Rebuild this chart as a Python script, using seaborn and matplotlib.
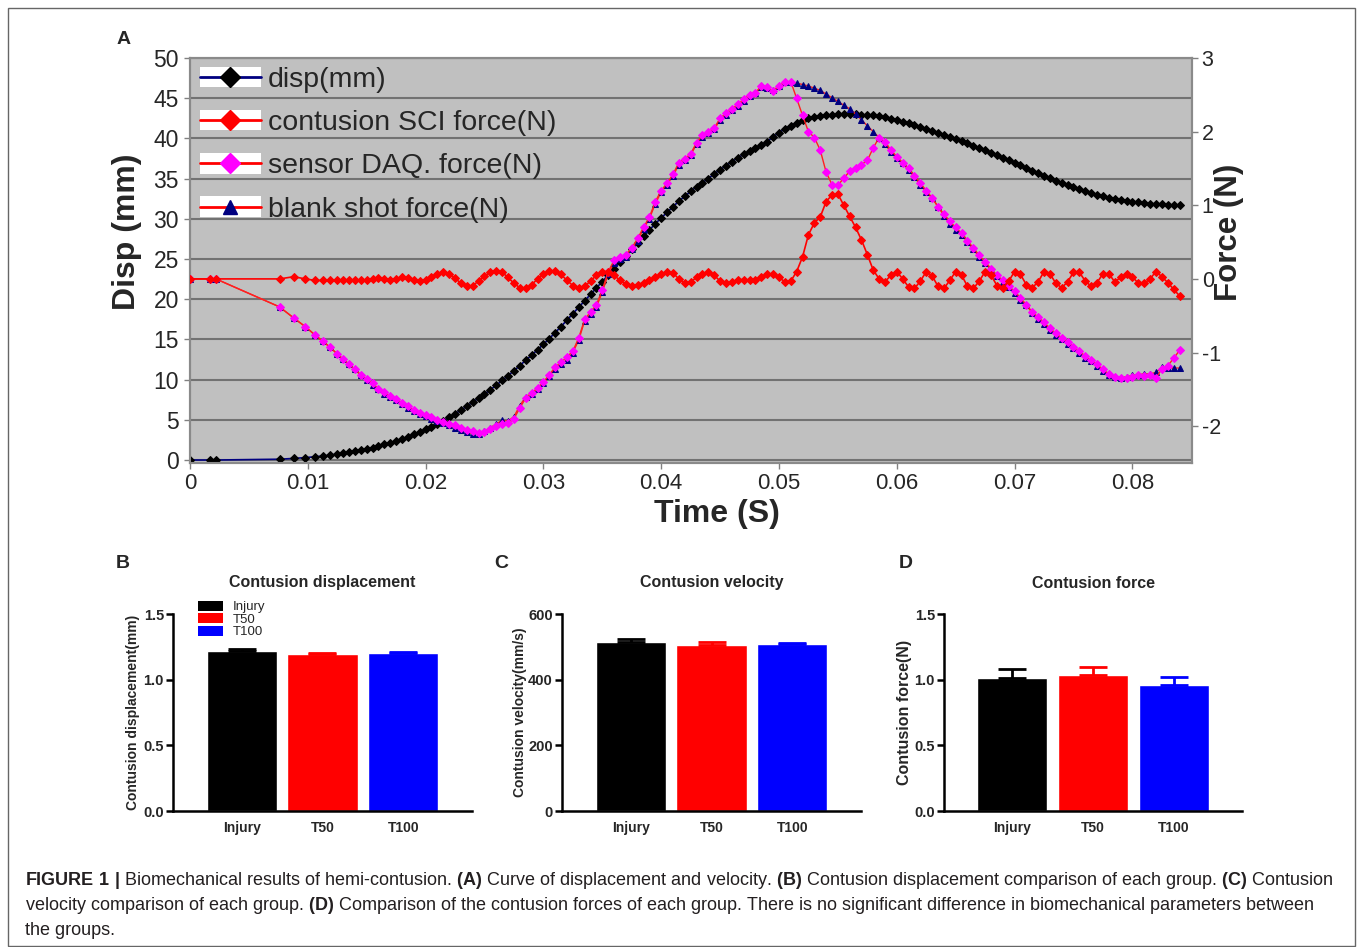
import matplotlib

matplotlib.use("Agg")
import matplotlib.pyplot as plt
import matplotlib.font_manager as fm
from matplotlib.patches import Rectangle, Patch
from matplotlib.lines import Line2D
from matplotlib.legend_handler import HandlerTuple
import pandas as pd
import seaborn as sns

# --- Panel A data: time base (s) and four series ---
time_s = [
    0.0, 0.0017, 0.0022, 0.0076, 0.0088, 0.0098, 0.0106, 0.0113, 0.0119, 0.0125, 0.0130, 0.0135, 0.0140,
    0.0145, 0.0150, 0.0155, 0.0160, 0.0165, 0.0170, 0.0175, 0.0180, 0.0185, 0.0190,
    0.0195, 0.0200, 0.0205, 0.0210, 0.0215, 0.0220, 0.0225, 0.0230, 0.0235, 0.0240,
    0.0245, 0.0250, 0.0255, 0.0260, 0.0265, 0.0270, 0.0275, 0.0280, 0.0285, 0.0290,
    0.0295, 0.0300, 0.0305, 0.0310, 0.0315, 0.0320, 0.0325, 0.0330, 0.0335, 0.0340,
    0.0345, 0.0350, 0.0355, 0.0360, 0.0365, 0.0370, 0.0375, 0.0380, 0.0385, 0.0390,
    0.0395, 0.0400, 0.0405, 0.0410, 0.0415, 0.0420, 0.0425, 0.0430, 0.0435, 0.0440,
    0.0445, 0.0450, 0.0455, 0.0460, 0.0465, 0.0470, 0.0475, 0.0480, 0.0485, 0.0490,
    0.0495, 0.0500, 0.0505, 0.0510, 0.0515, 0.0520, 0.0525, 0.0530, 0.0535, 0.0540,
    0.0545, 0.0550, 0.0555, 0.0560, 0.0565, 0.0570, 0.0575, 0.0580, 0.0585, 0.0590,
    0.0595, 0.0600, 0.0605, 0.0610, 0.0615, 0.0620, 0.0625, 0.0630, 0.0635, 0.0640,
    0.0645, 0.0650, 0.0655, 0.0660, 0.0665, 0.0670, 0.0675, 0.0680, 0.0685, 0.0690,
    0.0695, 0.0700, 0.0705, 0.0710, 0.0715, 0.0720, 0.0725, 0.0730, 0.0735, 0.0740,
    0.0745, 0.0750, 0.0755, 0.0760, 0.0765, 0.0770, 0.0775, 0.0780, 0.0785, 0.0790,
    0.0795, 0.0800, 0.0805, 0.0810, 0.0815, 0.0820, 0.0825, 0.0830, 0.0835, 0.0840,
]

disp_mm = [
    0, 0, 0, 0.1, 0.2, 0.3, 0.4, 0.5, 0.6, 0.75, 0.85, 1.0, 1.1,
    1.25, 1.4, 1.55, 1.75, 1.95, 2.15, 2.4, 2.65, 2.9, 3.2,
    3.5, 3.8, 4.15, 4.5, 4.9, 5.3, 5.75, 6.2, 6.7, 7.2,
    7.7, 8.2, 8.75, 9.3, 9.9, 10.5, 11.1, 11.75, 12.4, 13.05,
    13.7, 14.4, 15.1, 15.85, 16.6, 17.4, 18.2, 19.0, 19.8, 20.6,
    21.4, 22.2, 23.0, 23.8, 24.6, 25.4, 26.2, 27.0, 27.8, 28.6,
    29.4, 30.1, 30.8, 31.5, 32.2, 32.8, 33.4, 34.0, 34.5, 35.0,
    35.6, 36.1, 36.6, 37.1, 37.6, 38.0, 38.4, 38.8, 39.2, 39.6,
    40.2, 40.7, 41.2, 41.6, 41.95, 42.25, 42.5, 42.7, 42.8, 42.9,
    42.95, 43.0, 43.0, 43.0, 43.0, 42.95, 42.9, 42.85, 42.75, 42.6,
    42.45, 42.3, 42.1, 41.9, 41.7, 41.45, 41.2, 40.95, 40.7, 40.45,
    40.2, 39.9, 39.65, 39.4, 39.1, 38.8, 38.5, 38.2, 37.9, 37.6,
    37.3, 37.0, 36.65, 36.3, 36.0, 35.7, 35.35, 35.05, 34.75, 34.45,
    34.2, 33.9, 33.65, 33.4, 33.2, 33.0, 32.8, 32.65, 32.5, 32.35,
    32.25, 32.15, 32.05, 31.95, 31.9, 31.85, 31.8, 31.75, 31.72, 31.7,
]

sci_force_n = [
    0, 0, 0, 0, 0.03, 0, -0.02, -0.02, -0.02, -0.02, -0.02, -0.02, -0.02,
    -0.02, -0.01, 0.0, 0.01, 0.0, -0.01, 0.0, 0.02, 0.01, -0.02,
    -0.03, -0.01, 0.03, 0.07, 0.09, 0.07, 0.01, -0.06, -0.10, -0.09,
    -0.03, 0.04, 0.09, 0.11, 0.09, 0.02, -0.06, -0.12, -0.13, -0.08,
    0.0, 0.07, 0.11, 0.11, 0.06, -0.02, -0.09, -0.12, -0.10, -0.03,
    0.05, 0.10, 0.10, 0.05, -0.02, -0.07, -0.09, -0.08, -0.05, -0.02,
    0.02, 0.06, 0.09, 0.08, 0.0, -0.06, -0.04, 0.02, 0.06, 0.09,
    0.05, -0.03, -0.06, -0.04, -0.01, -0.01, -0.02, -0.01, 0.03, 0.06,
    0.07, 0.02, -0.04, -0.03, 0.10, 0.30, 0.60, 0.76, 0.84, 1.05,
    1.14, 1.15, 1.0, 0.85, 0.70, 0.53, 0.33, 0.12, 0.0, -0.04,
    0.05, 0.10, 0.0, -0.11, -0.13, -0.03, 0.10, 0.04, -0.10, -0.13,
    -0.02, 0.10, 0.05, -0.10, -0.13, -0.03, 0.10, 0.05, -0.09, -0.13,
    -0.03, 0.10, 0.06, -0.08, -0.12, -0.04, 0.10, 0.07, -0.06, -0.12,
    -0.04, 0.09, 0.09, -0.03, -0.10, -0.05, 0.07, 0.07, -0.04, 0.02,
    0.07, 0.03, -0.06, -0.06, 0.0, 0.10, 0.03, -0.05, -0.14, -0.23,
]

daq_force_n = [
    0, 0, 0, -0.38, -0.53, -0.65, -0.76, -0.85, -0.93, -1.02, -1.09, -1.16, -1.23,
    -1.30, -1.36, -1.42, -1.49, -1.54, -1.59, -1.63, -1.68, -1.73, -1.78,
    -1.82, -1.85, -1.88, -1.91, -1.94, -1.97, -1.99, -2.02, -2.05, -2.07,
    -2.09, -2.08, -2.04, -2.00, -1.97, -1.96, -1.90, -1.75, -1.62, -1.55,
    -1.48, -1.40, -1.30, -1.20, -1.13, -1.06, -0.98, -0.80, -0.55, -0.45,
    -0.35, -0.15, 0.10, 0.25, 0.30, 0.33, 0.42, 0.55, 0.70, 0.84,
    1.05, 1.20, 1.30, 1.42, 1.58, 1.63, 1.70, 1.85, 1.95, 2.00,
    2.05, 2.18, 2.25, 2.31, 2.37, 2.44, 2.50, 2.53, 2.62, 2.60,
    2.55, 2.62, 2.67, 2.68, 2.45, 2.22, 2.00, 1.92, 1.75, 1.45,
    1.28, 1.27, 1.37, 1.46, 1.51, 1.55, 1.61, 1.78, 1.92, 1.86,
    1.75, 1.66, 1.58, 1.50, 1.40, 1.30, 1.20, 1.10, 0.98, 0.88,
    0.78, 0.70, 0.62, 0.52, 0.42, 0.32, 0.23, 0.14, 0.05, -0.02,
    -0.10, -0.17, -0.26, -0.35, -0.45, -0.52, -0.59, -0.67, -0.74, -0.80,
    -0.86, -0.92, -0.98, -1.05, -1.10, -1.16, -1.23, -1.29, -1.33, -1.35,
    -1.34, -1.33, -1.31, -1.32, -1.30, -1.35, -1.22, -1.18, -1.08, -0.97,
]

blank_force_n = [
    0, 0, 0, -0.38, -0.53, -0.65, -0.76, -0.85, -0.93, -1.02, -1.09, -1.16, -1.23,
    -1.31, -1.37, -1.44, -1.50, -1.56, -1.60, -1.65, -1.70, -1.75, -1.79,
    -1.83, -1.86, -1.90, -1.93, -1.96, -1.99, -2.02, -2.05, -2.08, -2.10,
    -2.10, -2.07, -2.02, -1.97, -1.92, -1.93, -1.87, -1.72, -1.60, -1.56,
    -1.50, -1.42, -1.32, -1.22, -1.15, -1.10, -1.00, -0.83, -0.57, -0.48,
    -0.38, -0.18, 0.07, 0.22, 0.27, 0.30, 0.40, 0.52, 0.68, 0.82,
    1.02, 1.18, 1.28, 1.40, 1.55, 1.61, 1.68, 1.83, 1.93, 1.98,
    2.03, 2.16, 2.23, 2.29, 2.35, 2.42, 2.48, 2.52, 2.60, 2.59,
    2.56, 2.62, 2.67, 2.68, 2.66, 2.64, 2.62, 2.59, 2.56, 2.51,
    2.46, 2.41, 2.36, 2.31, 2.24, 2.16, 2.08, 2.00, 1.92, 1.83,
    1.72, 1.64, 1.57, 1.48, 1.38, 1.28, 1.18, 1.10, 0.98, 0.86,
    0.75, 0.67, 0.60, 0.50, 0.40, 0.30, 0.22, 0.12, 0.04, -0.04,
    -0.11, -0.19, -0.28, -0.36, -0.46, -0.54, -0.61, -0.69, -0.76, -0.82,
    -0.88, -0.94, -1.00, -1.07, -1.12, -1.18, -1.25, -1.30, -1.33, -1.34,
    -1.33, -1.31, -1.30, -1.29, -1.29, -1.27, -1.20, -1.21, -1.21, -1.21,
]

time_ticks = [0, 0.01, 0.02, 0.03, 0.04, 0.05, 0.06, 0.07, 0.08]
time_tick_labels = ["0", "0.01", "0.02", "0.03", "0.04", "0.05", "0.06", "0.07", "0.08"]

# --- Panels B-D data ---
groups = ["Injury", "T50", "T100"]
disp_means = [1.218, 1.196, 1.205]
disp_errs = [0.012, 0.008, 0.007]
velocity_means = [515.6, 505.5, 508.6]
velocity_errs = [7.0, 8.0, 3.0]
force_means = [1.010, 1.036, 0.959]
force_errs = [0.069, 0.058, 0.059]
group_colors = ["#000000", "#ff0000", "#0000ff"]

# --- Style ---
sns.set_style("white")
plt.rcParams["font.family"] = ["Liberation Sans", "DejaVu Sans"]
plt.rcParams["mathtext.fontset"] = "custom"
plt.rcParams["mathtext.rm"] = "Liberation Sans"
plt.rcParams["mathtext.bf"] = "Liberation Sans:bold"

font_names = {f.name for f in fm.fontManager.ttflist}
HAS_NARROW = "Liberation Sans Narrow" in font_names
NARROW = ["Liberation Sans Narrow", "Liberation Sans"] if HAS_NARROW else ["Liberation Sans"]

W, H = 1358, 947
fig = plt.figure(figsize=(W / 100, H / 100), dpi=100)


def fx(px):
    return px / W


def fy(py):
    return 1 - py / H


# ================= Panel A =================
ax = fig.add_axes([fx(190), fy(463), (1192 - 190) / W, (463 - 58) / H])
ax.set_facecolor("#c0c0c0")
ax2 = ax.twinx()

curve_df = pd.DataFrame(
    {
        "time": time_s,
        "disp": disp_mm,
        "sci": sci_force_n,
        "daq": daq_force_n,
        "blank": blank_force_n,
    }
)

sns.lineplot(
    data=curve_df, x="time", y="disp", ax=ax, color="#000080", linewidth=1.2,
    marker="D", markersize=4.2, markerfacecolor="black", markeredgecolor="black",
    estimator=None, sort=False, zorder=5,
)
sns.lineplot(
    data=curve_df, x="time", y="blank", ax=ax2, color="#ff2020", linewidth=1.0,
    marker="^", markersize=5, markerfacecolor="#000080", markeredgecolor="#000080",
    estimator=None, sort=False, zorder=3,
)
sns.lineplot(
    data=curve_df, x="time", y="daq", ax=ax2, color="#ff2020", linewidth=1.0,
    marker="D", markersize=4.2, markerfacecolor="#ff00ff", markeredgecolor="#ff00ff",
    estimator=None, sort=False, zorder=4,
)
sns.lineplot(
    data=curve_df, x="time", y="sci", ax=ax2, color="#ff0000", linewidth=1.2,
    marker="D", markersize=3.8, markerfacecolor="#ff0000", markeredgecolor="#ff0000",
    estimator=None, sort=False, zorder=5,
)

ax.set_xlim(0, 0.08506)
ax.set_ylim(-0.37, 50)
ax2.set_ylim(-2.5, 3)
ax.set_xlabel("")
ax.set_ylabel("")
ax2.set_ylabel("")

ax.set_axisbelow(True)
ax.yaxis.grid(True, color="#727272", linewidth=1.5)
ax.xaxis.grid(False)
ax.set_yticks(list(range(0, 51, 5)))
ax.set_xticks(time_ticks)
ax.set_xticklabels(time_tick_labels, family=NARROW, fontsize=19 if HAS_NARROW else 16)
ax2.set_yticks([-2, -1, 0, 1, 2, 3])
ax2.set_yticklabels(["-2", "-1", "0", "1", "2", "3"])

ax.tick_params(axis="y", left=True, length=4, width=1, color="#808080", labelsize=16.5, pad=4)
ax.tick_params(axis="x", bottom=True, length=4, width=1, color="#808080", pad=3)
ax2.tick_params(axis="y", right=True, length=4, width=1, color="#808080", labelsize=15.5, pad=3)
for a in (ax, ax2):
    for s in a.spines.values():
        s.set_color("#8a8a8a")
        s.set_linewidth(1.5)

fig.text(fx(127), fy(232), "Disp (mm)", rotation=90, ha="center", va="center",
         fontsize=23, fontweight="bold")
fig.text(fx(1229), fy(232), "Force (N)", rotation=90, ha="center", va="center",
         fontsize=22.5, fontweight="bold")
fig.text(fx(717), fy(514), "Time (S)", ha="center", va="center",
         fontsize=27 if HAS_NARROW else 23, fontweight="bold", family=NARROW)

legend_specs = [
    ("disp(mm)", "#000080", "D", "black"),
    ("contusion SCI force(N)", "#ff0000", "D", "#ff0000"),
    ("sensor DAQ. force(N)", "#ff0000", "D", "#ff00ff"),
    ("blank shot force(N)", "#ff0000", "^", "#000080"),
]
leg_handles = []
for _, lc, mk, mc in legend_specs:
    box = Rectangle((0, 0), 1, 1, facecolor="white", edgecolor="none")
    ln = Line2D([], [], color=lc, linewidth=2, marker=mk, markersize=10,
                markerfacecolor=mc, markeredgecolor=mc)
    leg_handles.append((box, ln))
ax2.legend(
    leg_handles, [s[0] for s in legend_specs],
    handler_map={tuple: HandlerTuple(ndivide=1, pad=0)},
    loc="upper left", bbox_to_anchor=(0.01, 0.978), frameon=False,
    fontsize=20.5, handlelength=2.14, handleheight=0.72, handletextpad=0.25,
    labelspacing=0.6, borderpad=0, borderaxespad=0,
)

# ================= Panels B-D =================
bar_panels = [
    (173, 472, "Contusion displacement", "Contusion displacement(mm)", 133, 10,
     disp_means, disp_errs, [0.0, 0.5, 1.0, 1.5], ["0.0", "0.5", "1.0", "1.5"]),
    (562, 861, "Contusion velocity", "Contusion velocity(mm/s)", 520, 10,
     velocity_means, velocity_errs, [0, 200, 400, 600], ["0", "200", "400", "600"]),
    (944, 1242, "Contusion force", "Contusion force(N)", 905, 11.5,
     force_means, force_errs, [0.0, 0.5, 1.0, 1.5], ["0.0", "0.5", "1.0", "1.5"]),
]

bar_axes = []
for left, right, title, ylab, ylab_x, ylab_size, means, errs, yt, ytl in bar_panels:
    bax = fig.add_axes([fx(left), fy(811), (right - left) / W, (811 - 614) / H])
    sns.barplot(
        x=groups, y=means, hue=groups, palette=group_colors, legend=False,
        width=0.87, saturation=1, errorbar=None, ax=bax,
    )
    for i, (m, e, c) in enumerate(zip(means, errs, group_colors)):
        bax.errorbar(i, m, yerr=[[0], [e]], fmt="none", ecolor=c,
                     elinewidth=2, capsize=10, capthick=2, zorder=4)
    bax.set_xlim(-0.85, 2.85)
    bax.set_ylim(yt[0], yt[-1])
    bax.set_yticks(yt)
    bax.set_yticklabels(ytl, fontweight="bold", fontsize=10.5)
    bax.set_xticks([0, 1, 2])
    bax.set_xticklabels(groups, fontweight="bold", fontsize=10)
    bax.tick_params(axis="y", left=True, length=5, width=1.8, color="black", pad=1.5)
    bax.tick_params(axis="x", bottom=False, length=0, pad=7)
    for side in ("top", "right"):
        bax.spines[side].set_visible(False)
    for side in ("left", "bottom"):
        bax.spines[side].set_color("black")
        bax.spines[side].set_linewidth(1.8)
    bax.set_xlabel("")
    bax.set_ylabel("")
    fig.text(fx((left + right) / 2), fy(583), title, ha="center", va="center",
             fontsize=11.5, fontweight="bold")
    fig.text(fx(ylab_x), fy(712), ylab, rotation=90, ha="center", va="center",
             fontsize=ylab_size, fontweight="bold")
    bar_axes.append(bax)

bar_axes[0].legend(
    handles=[Patch(facecolor=c, edgecolor="none") for c in group_colors],
    labels=groups, loc="upper left", bbox_to_anchor=(fx(198), fy(601)),
    bbox_transform=fig.transFigure, frameon=False, fontsize=9.5,
    handlelength=1.9, handleheight=0.75, handletextpad=0.7,
    labelspacing=0.0, borderpad=0, borderaxespad=0,
)

# ================= Panel letters =================
for letter, px, py in [("A", 124, 40), ("B", 123, 563), ("C", 501, 563), ("D", 906, 563)]:
    fig.text(fx(px), fy(py), letter, ha="center", va="center", fontsize=14, fontweight="bold")

# ================= Caption =================
caption_lines = [
    r"$\mathbf{FIGURE\ 1\ |}$ Biomechanical results of hemi-contusion. $\mathbf{(A)}$ Curve of "
    r"displacement and velocity. $\mathbf{(B)}$ Contusion displacement comparison of each group. "
    r"$\mathbf{(C)}$ Contusion",
    r"velocity comparison of each group. $\mathbf{(D)}$ Comparison of the contusion forces of each "
    r"group. There is no significant difference in biomechanical parameters between",
    "the groups.",
]
for i, line in enumerate(caption_lines):
    fig.text(fx(25), fy(880 + 25 * i), line, ha="left", va="center", fontsize=13.0, color="#231f20")

# outer frame
fig.add_artist(Rectangle((fx(8), fy(946)), (1355 - 8) / W, (946 - 8) / H,
                         transform=fig.transFigure, fill=False,
                         edgecolor="#666666", linewidth=1))

fig.savefig("out.png", dpi=100)
